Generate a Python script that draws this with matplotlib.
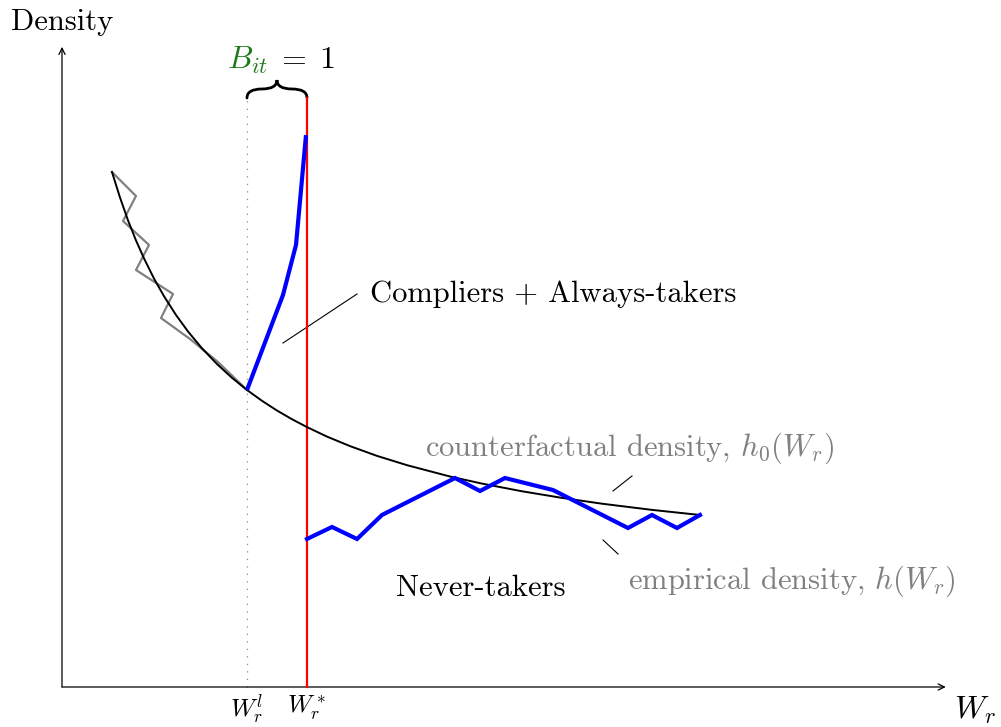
import matplotlib
matplotlib.use("Agg")
import matplotlib.pyplot as plt
from matplotlib.path import Path
from matplotlib.patches import PathPatch

plt.rcParams['font.family'] = ['cmr10', 'DejaVu Serif']
plt.rcParams['mathtext.fontset'] = 'cm'
plt.rcParams['axes.unicode_minus'] = False

# ---- data (schematic units) ----
W_l = 3.083          # lower threshold W_r^l
W_star = 4.083       # threshold W_r^*
line_top = 9.817     # top of the vertical threshold lines
x_axis_end = 14.73
y_axis_end = 10.67

# counterfactual density h0(W_r) (smooth curve)
cf_x = [0.833, 0.967, 1.1, 1.233, 1.367, 1.533, 1.7, 1.9, 2.1, 2.333, 2.583, 2.833,
        3.083, 3.333, 3.583, 3.833, 4.083, 4.417, 4.8, 5.25, 5.75, 6.467, 7.0,
        7.667, 8.333, 9.0, 9.833, 10.633]
cf_y = [8.583, 8.157, 7.778, 7.443, 7.143, 6.808, 6.513, 6.2, 5.925, 5.645, 5.383, 5.153,
        4.95, 4.77, 4.608, 4.463, 4.332, 4.173, 4.015, 3.852, 3.697, 3.508, 3.39,
        3.262, 3.152, 3.055, 2.952, 2.867]

# empirical density left of W_r^l (gray zigzag)
emp_left_x = [0.833, 1.233, 1.017, 1.45, 1.233, 1.85, 1.65, 2.133, 2.6, 3.083]
emp_left_y = [8.583, 8.183, 7.767, 7.367, 6.95, 6.55, 6.15, 5.8, 5.417, 4.95]

# empirical density between W_r^l and W_r^* (compliers + always-takers)
bunch_x = [3.083, 3.683, 3.9, 4.067]
bunch_y = [4.95, 6.533, 7.367, 9.2]

# empirical density right of W_r^* (never-takers)
never_x = [4.083, 4.5, 4.917, 5.333, 6.55, 6.967, 7.383, 8.183, 9.433, 9.833, 10.25, 10.633]
never_y = [2.467, 2.667, 2.467, 2.867, 3.483, 3.267, 3.483, 3.283, 2.65, 2.867, 2.65, 2.867]

fig = plt.figure(figsize=(10.01, 7.27), dpi=100)
ax = fig.add_axes([0, 0, 1, 1])
ax.set_xlim(-62 / 60, (1001 - 62) / 60)
ax.set_ylim((687 - 727) / 60, 687 / 60)
ax.axis('off')

arrow_kw = dict(arrowstyle='->,head_length=0.45,head_width=0.22', lw=0.9,
                color='black', shrinkA=0, shrinkB=0)
ax.annotate('', xy=(x_axis_end, 0), xytext=(0, 0), arrowprops=arrow_kw)
ax.annotate('', xy=(0, y_axis_end), xytext=(0, 0), arrowprops=arrow_kw)

# threshold lines
ax.plot([W_l, W_l], [0, line_top], color='0.55', lw=0.9, linestyle=(0, (1, 5)))
ax.plot([W_star, W_star], [0, line_top], color='#ff0000', lw=1.6, zorder=3)

# densities
ax.plot(emp_left_x, emp_left_y, color='0.5', lw=1.6, zorder=2)
ax.plot(cf_x, cf_y, color='black', lw=1.4, zorder=3)
ax.plot(bunch_x, bunch_y, color='#0000ff', lw=3.0, zorder=4, solid_capstyle='butt')
ax.plot(never_x, never_y, color='#0000ff', lw=3.0, zorder=4, solid_joinstyle='miter')

# brace
h = 0.3
w = W_star - W_l
xm = (W_l + W_star) / 2
y0 = line_top
verts = [(W_l, y0), (W_l, y0 + h / 2), (W_l + w / 4, y0 + h / 2),
         (xm, y0 + h / 2), (xm, y0 + h),
         (xm, y0 + h / 2), (W_star - w / 4, y0 + h / 2),
         (W_star, y0 + h / 2), (W_star, y0)]
codes = [Path.MOVETO] + [Path.CURVE3] * 8
ax.add_patch(PathPatch(Path(verts, codes), fill=False, lw=2.0, edgecolor='black',
                       capstyle='round'))
ax.text(3.43, 10.45, r'$B_{it}$', color='#1a7a1a', fontsize=23,
        ha='right', va='center')
ax.text(3.57, 10.45, r'$=\;1$', color='black', fontsize=23,
        ha='left', va='center')

# labels
ax.text(0, 11.083, 'Density', fontsize=22, ha='center', va='center')
ax.text(15.217, -0.38, r'$W_r$', fontsize=23, ha='center', va='center')
ax.text(W_l, -0.38, r'$W_r^l$', fontsize=18, ha='center', va='center')
ax.text(W_star, -0.35, r'$W_r^*$', fontsize=18, ha='center', va='center')

# annotations
ax.plot([3.683, 4.917], [5.733, 6.55], color='black', lw=0.8)
ax.text(5.133, 6.55, 'Compliers + Always-takers', fontsize=22, ha='left', va='center')

ax.plot([9.183, 9.5], [3.267, 3.517], color='black', lw=0.8)
ax.text(6.05, 3.983, r'counterfactual density, $h_0(W_r)$', fontsize=22,
        color='0.5', ha='left', va='center')

ax.plot([9.017, 9.267], [2.45, 2.217], color='black', lw=0.8)
ax.text(9.433, 1.767, r'empirical density, $h(W_r)$', fontsize=22,
        color='0.5', ha='left', va='center')

ax.text(5.567, 1.65, 'Never-takers', fontsize=22, ha='left', va='center')

fig.savefig('out.png', dpi=100)
